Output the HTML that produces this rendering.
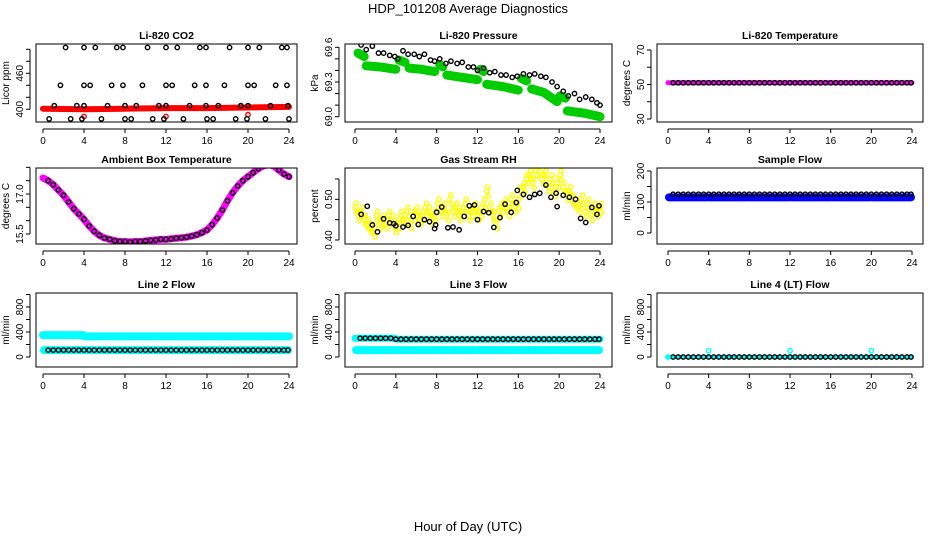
<!DOCTYPE html>
<html><head><meta charset="utf-8"><style>
body{margin:0;background:#fff;}
svg{display:block;font-family:"Liberation Sans",sans-serif;}
</style></head><body>
<svg id="chart" width="936" height="540" viewBox="0 0 936 540">
<text x="468" y="13" text-anchor="middle" font-size="13">HDP_101208  Average Diagnostics</text>
<text x="468" y="531" text-anchor="middle" font-size="13">Hour of Day (UTC)</text>
</svg>
<script>
// ---------- data ----------
const xTicks=[0,4,8,12,16,20,24];
const circleHours=[0.5,1,1.5,2,2.5,3,3.5,4,4.5,5,5.5,6,6.5,7,7.5,8,8.5,9,9.5,10,10.5,11,11.5,12,12.5,13,13.5,14,14.5,15,15.5,16,16.5,17,17.5,18,18.5,19,19.5,20,20.5,21,21.5,22,22.5,23,23.5,23.9];
// CO2
const co2TopHours=[2.2,4.0,5.1,7.2,7.8,10.2,12.0,13.1,15.3,15.9,18.2,20.0,21.1,23.3,23.8];
const co2R2Hours=[1.7,4.0,4.6,6.7,7.8,9.7,12.0,12.6,14.8,15.9,17.7,20.0,20.6,22.7,23.8];
const co2R3Hours=[1.1,3.3,4.0,6.3,8.0,9.1,11.3,12.0,14.3,15.9,17.1,19.3,20.0,22.2,23.9];
const co2R4Hours=[0.6,2.7,3.8,5.7,8.0,8.6,10.7,11.8,13.7,16.0,16.6,18.8,19.9,21.7,24.0];
const co2Levels=[503,440,406,384];
const co2RedHours=[0,4,8,12,16,20,24];
const co2RedVals=[401,400,401,402,402,403,404];
const co2RedCircleHours=[4,12,20];
const co2RedCircleVals=[388,388,391];
// Pressure
const presHours=[0.6,1.1,1.7,2.3,2.8,3.4,3.9,4.2,4.7,5.2,5.8,6.3,6.8,7.4,7.8,8.3,8.9,9.4,10,10.5,11.1,11.6,12,12.6,13.2,13.7,14.3,14.8,15.4,15.9,16.5,17.1,17.6,18.2,18.7,19.3,19.8,20.4,20.9,21.5,22,22.6,23.2,23.7,24];
const presVals=[69.62,69.58,69.61,69.55,69.55,69.53,69.52,69.5,69.57,69.54,69.54,69.52,69.54,69.49,69.48,69.5,69.46,69.48,69.46,69.47,69.43,69.43,69.4,69.42,69.38,69.39,69.36,69.36,69.34,69.35,69.37,69.36,69.37,69.35,69.34,69.3,69.26,69.22,69.18,69.2,69.15,69.17,69.15,69.12,69.1];
const greenHours=[0.3,0.9,null,1.1,2.5,4.0,null,4.3,4.9,null,5.3,6.5,7.8,null,8.3,8.6,null,9.0,10.5,12.0,null,12.3,12.6,null,12.9,14.5,16.0,null,16.3,16.8,null,17.3,18.5,19.8,null,20.1,20.6,null,20.8,22.5,24.0];
const greenVals=[69.55,69.52,null,69.44,69.43,69.41,null,69.49,69.47,null,69.42,69.41,69.39,null,69.45,69.43,null,69.36,69.34,69.32,null,69.41,69.39,null,69.28,69.26,69.23,null,69.33,69.31,null,69.24,69.21,69.13,null,69.18,69.16,null,69.05,69.03,69.0];
// Li-820 temperature
const tempVal=[51];
// Ambient
const ambHours=[0,0.5,1,1.5,2,2.5,3,3.5,4,4.5,5,5.5,6,6.5,7,7.5,8,8.5,9,9.5,10,10.5,11,11.5,12,12.5,13,13.5,14,14.5,15,15.5,16,16.5,17,17.5,18,18.5,19,19.5,20,20.5,21,21.5,22,22.5,23,23.5,24];
const ambVals=[17.6,17.5,17.35,17.15,16.95,16.7,16.45,16.25,16.05,15.8,15.6,15.45,15.35,15.3,15.25,15.22,15.22,15.2,15.22,15.22,15.24,15.26,15.28,15.3,15.3,15.32,15.34,15.36,15.38,15.42,15.47,15.55,15.65,15.85,16.1,16.4,16.75,17.05,17.3,17.5,17.65,17.8,17.95,18.05,18.1,18.05,17.9,17.75,17.65];
// RH
const rhYHours=[0,0.3,0.6,0.9,1.2,1.5,1.8,2.1,2.4,2.7,3.0,3.3,3.6,3.9,4.2,4.5,4.8,5.1,5.4,5.7,6.0,6.3,6.6,6.9,7.2,7.5,7.8,8.1,8.4,8.7,9.0,9.3,9.6,9.9,10.2,10.5,10.8,11.1,11.4,11.7,12.0,12.3,12.6,12.9,13.2,13.5,13.8,14.1,14.4,14.7,15.0,15.3,15.6,15.9,16.2,16.5,16.8,17.1,17.4,17.7,18.0,18.3,18.6,18.9,19.2,19.5,19.8,20.1,20.4,20.7,21.0,21.3,21.6,21.9,22.2,22.5,22.8,23.1,23.4,23.7,24.0];
const rhYVals=[0.48,0.46,0.47,0.45,0.44,0.43,0.42,0.46,0.44,0.45,0.44,0.46,0.45,0.43,0.44,0.46,0.45,0.47,0.44,0.46,0.47,0.45,0.46,0.48,0.47,0.45,0.46,0.49,0.47,0.48,0.46,0.5,0.47,0.48,0.46,0.47,0.49,0.46,0.47,0.48,0.46,0.47,0.49,0.52,0.48,0.46,0.44,0.47,0.48,0.49,0.47,0.5,0.48,0.49,0.52,0.53,0.55,0.56,0.54,0.57,0.58,0.55,0.56,0.53,0.55,0.52,0.54,0.56,0.53,0.51,0.52,0.5,0.49,0.48,0.5,0.47,0.49,0.46,0.48,0.47,0.48];
const rhBHours=[0.6,1.2,1.7,2.2,2.8,3.4,3.8,4.0,4.7,5.2,5.7,6.2,6.8,7.3,7.8,7.9,8.0,8.5,9.1,9.6,10.2,10.7,11.2,11.7,12.0,12.6,13.1,13.6,14.2,14.7,15.3,15.8,15.9,16.5,17.1,17.6,18.1,18.7,19.2,19.7,19.8,20.4,21.0,21.6,22.1,22.6,23.2,23.7,23.9];
const rhBVals=[0.463,0.483,0.437,0.42,0.452,0.442,0.44,0.435,0.432,0.436,0.458,0.438,0.45,0.445,0.428,0.437,0.468,0.481,0.43,0.432,0.425,0.458,0.484,0.486,0.45,0.47,0.467,0.431,0.455,0.488,0.468,0.492,0.522,0.512,0.505,0.512,0.515,0.535,0.505,0.515,0.482,0.51,0.505,0.5,0.453,0.443,0.48,0.463,0.484];
// Sample flow
const sfBlue=[115];
const sfBlack=[125];
// Line flows
const l2Cyan=[350,330];
const l2Low=[110];
const l3Cyan=[300,285];
const l3Low=[110];
const l4Black=[0];
const l4CyanHours=[4,12,20];
const l4CyanVals=[100,100,100];
const segHours=[0,4,8,12,16,20,24];

// ---------- layout ----------
const NS="http://www.w3.org/2000/svg";
const svg=document.getElementById('chart');
function mk(tag,attrs,parent){const e=document.createElementNS(NS,tag);for(const k in attrs)e.setAttribute(k,attrs[k]);(parent||svg).appendChild(e);return e;}
const cols=[{l:36,r:297,x0:43,x24:289},{l:345,r:612,x0:355,x24:600},{l:657,r:923,x0:668,x24:912}];
function panel(o){
  const c=cols[o.col];
  const g=mk('g',{});
  
  
  const X=h=>c.x0+(c.x24-c.x0)*h/24;
  const Y=v=>o.p1+(o.p2-o.p1)*(v-o.v1)/(o.v2-o.v1);
  const t=mk('text',{x:(c.l+c.r)/2,y:o.top-5,'text-anchor':'middle','font-size':10.5,'font-weight':'bold'},g);t.textContent=o.title;
  
  const clip='clip'+o.name;const cp=mk('clipPath',{id:clip},g);mk('rect',{x:c.l,y:o.top,width:c.r-c.l,height:o.bot-o.top},cp);
  const pg=mk('g',{'clip-path':'url(#'+clip+')'},g);
  o.draw(pg,X,Y);
  const box=mk('rect',{x:c.l,y:o.top,width:c.r-c.l,height:o.bot-o.top,fill:'none',stroke:'#000','stroke-width':1},g);
  
  const ay=o.bot+7;
  mk('line',{x1:X(0),x2:X(24),y1:ay,y2:ay,stroke:'#000'},g);
  xTicks.forEach(h=>{mk('line',{x1:X(h),x2:X(h),y1:ay,y2:ay+4,stroke:'#000'},g);
    const tl=mk('text',{x:X(h),y:ay+15,'text-anchor':'middle','font-size':10},g);tl.textContent=h;
    });
  const ax=c.l-6;
  mk('line',{x1:ax,x2:ax,y1:Y(o.ticks[0]),y2:Y(o.ticks[o.ticks.length-1]),stroke:'#000'},g);
  o.ticks.forEach(v=>{mk('line',{x1:ax,x2:ax-4,y1:Y(v),y2:Y(v),stroke:'#000'},g);});
  o.labels.forEach(v=>{const yy=Y(v);const tl=mk('text',{x:ax-7,y:yy,'text-anchor':'middle','font-size':10,transform:`rotate(-90 ${ax-7} ${yy})`},g);tl.textContent=o.fmt?o.fmt(v):v;
    });
  const ym=(o.top+o.bot)/2;const yt=mk('text',{x:c.l-27,y:ym,'text-anchor':'middle','font-size':10,transform:`rotate(-90 ${c.l-27} ${ym})`},g);yt.textContent=o.ylab;
  
}
function circ(p,x,y,col,r){const e=mk('circle',{cx:x,cy:y,r:r||2.2,fill:'none',stroke:col,'stroke-width':1.4},p);
  return e;}
function band(p,X,Y,hs,vs,col,w){let d='';let start=true;hs.forEach((h,i)=>{if(h===null){start=true;return;}d+=(start?'M':'L')+X(h)+','+Y(vs[i]);start=false;});
  const e=mk('path',{d:d,fill:'none',stroke:col,'stroke-width':w,'stroke-linecap':'round','stroke-linejoin':'round'},p);
  }
function flatSegs(p,X,Y,v,col,w){for(let i=0;i<segHours.length-1;i++){const e=mk('line',{x1:X(segHours[i]+0.1),x2:X(segHours[i+1]-0.1),y1:Y(v),y2:Y(v),stroke:col,'stroke-width':w,'stroke-linecap':'round'},p);
  }}

const R1=[44,122],R2=[168,244],R3=[293,367];
panel({name:'co2-panel',col:0,top:R1[0],bot:R1[1],title:'Li-820 CO2',ylab:'Licor ppm',v1:400,p1:109.3,v2:460,p2:73.3,ticks:[400,420,440,460,480,500],labels:[400,460],
 draw:(p,X,Y)=>{band(p,X,Y,co2RedHours,co2RedVals,'#ff0000',6);
  co2RedCircleHours.forEach((h,i)=>circ(p,X(h),Y(co2RedCircleVals[i]),'#ff0000'));
  [co2TopHours,co2R2Hours,co2R3Hours,co2R4Hours].forEach((arr,k)=>arr.forEach(h=>circ(p,X(h),Y(co2Levels[k]),'#000')));}});
panel({name:'pressure-panel',col:1,top:R1[0],bot:R1[1],title:'Li-820 Pressure',ylab:'kPa',v1:69.0,p1:116.7,v2:69.6,p2:47.3,ticks:[69.0,69.1,69.2,69.3,69.4,69.5,69.6],labels:[69.0,69.3,69.6],fmt:v=>v.toFixed(1),
 draw:(p,X,Y)=>{band(p,X,Y,greenHours,greenVals,'#00cc00',9);presHours.forEach((h,i)=>circ(p,X(h),Y(presVals[i]),'#000'));}});
panel({name:'li820-temperature-panel',col:2,top:R1[0],bot:R1[1],title:'Li-820 Temperature',ylab:'degrees C',v1:30,p1:119,v2:70,p2:50,ticks:[30,40,50,60,70],labels:[30,50,70],
 draw:(p,X,Y)=>{band(p,X,Y,[0,24],[tempVal[0],tempVal[0]],'#ff00ff',5);circleHours.forEach(h=>circ(p,X(h),Y(tempVal[0]),'#000'));}});
panel({name:'ambient-temperature-panel',col:0,top:R2[0],bot:R2[1],title:'Ambient Box Temperature',ylab:'degrees C',v1:15.5,p1:234,v2:17.0,p2:194,ticks:[15.5,16,16.5,17,17.5,18],labels:[15.5,17.0],fmt:v=>v.toFixed(1),
 draw:(p,X,Y)=>{band(p,X,Y,ambHours,ambVals,'#ff00ff',7);ambHours.forEach((h,i)=>{if(h>0)circ(p,X(h),Y(ambVals[i]),'#000');});}});
panel({name:'rh-panel',col:1,top:R2[0],bot:R2[1],title:'Gas Stream RH',ylab:'percent',v1:0.40,p1:240,v2:0.50,p2:199.3,ticks:[0.40,0.45,0.50,0.55],labels:[0.40,0.50],fmt:v=>v.toFixed(2),
 draw:(p,X,Y)=>{rhYHours.forEach((h,i)=>{circ(p,X(h),Y(rhYVals[i]),'#ffff00');circ(p,X(h+0.15),Y(rhYVals[i]-0.012),'#ffff00');circ(p,X(h+0.1),Y(rhYVals[i]+0.01),'#ffff00');});
  rhBHours.forEach((h,i)=>circ(p,X(h),Y(rhBVals[i]),'#000'));}});
panel({name:'sample-flow-panel',col:2,top:R2[0],bot:R2[1],title:'Sample Flow',ylab:'ml/min',v1:0,p1:233,v2:200,p2:171,ticks:[0,50,100,150,200],labels:[0,100,200],
 draw:(p,X,Y)=>{flatSegs(p,X,Y,sfBlue[0],'#0000ff',8);circleHours.forEach(h=>circ(p,X(h),Y(sfBlack[0]),'#000'));}});
const flowY={v1:0,p1:357,v2:800,p2:307,ticks:[0,200,400,600,800,1000],labels:[0,400,800]};
panel(Object.assign({name:'line2-flow-panel',col:0,top:R3[0],bot:R3[1],title:'Line 2 Flow',ylab:'ml/min',
 draw:(p,X,Y)=>{band(p,X,Y,[0,3.9,null,4.1,24],[l2Cyan[0],l2Cyan[0],null,l2Cyan[1],l2Cyan[1]],'#00ffff',8);flatSegs(p,X,Y,l2Low[0],'#00ffff',8);circleHours.forEach(h=>circ(p,X(h),Y(l2Low[0]),'#000'));}},flowY));
panel(Object.assign({name:'line3-flow-panel',col:1,top:R3[0],bot:R3[1],title:'Line 3 Flow',ylab:'ml/min',
 draw:(p,X,Y)=>{band(p,X,Y,[0,3.9,null,4.1,24],[l3Cyan[0],l3Cyan[0],null,l3Cyan[1],l3Cyan[1]],'#00ffff',7);flatSegs(p,X,Y,l3Low[0],'#00ffff',8);
  circleHours.forEach(h=>circ(p,X(h),Y(h<4?l3Cyan[0]:l3Cyan[1]),'#000'));}},flowY));
panel(Object.assign({name:'line4-flow-panel',col:2,top:R3[0],bot:R3[1],title:'Line 4 (LT) Flow',ylab:'ml/min',
 draw:(p,X,Y)=>{band(p,X,Y,[0,24],[l4Black[0],l4Black[0]],'#00ffff',4);circleHours.forEach(h=>circ(p,X(h),Y(l4Black[0]),'#000'));
  circ(p,X(0),Y(l4Black[0]),'#00ffff');l4CyanHours.forEach((h,i)=>circ(p,X(h),Y(l4CyanVals[i]),'#00ffff'));}},flowY));
</script>
</body></html>
